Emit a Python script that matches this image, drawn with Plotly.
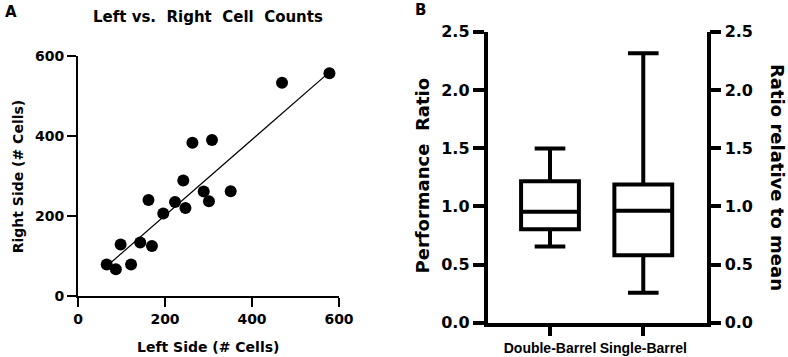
import plotly.graph_objects as go

# ---------- Data ----------
left_cells = [66, 87, 98, 122, 143, 170, 162, 196, 223, 242, 247, 263, 289, 301, 308, 351, 469, 578]
right_cells = [79, 67, 129, 79, 134, 125, 240, 206, 235, 289, 220, 383, 261, 237, 390, 262, 533, 557]
# regression line
fit_slope = 0.948
fit_intercept = 11.8

box_groups = ["Double-Barrel", "Single-Barrel"]
box_lower = [0.655, 0.258]
box_q1 = [0.802, 0.58]
box_median = [0.954, 0.962]
box_q3 = [1.216, 1.188]
box_upper = [1.497, 2.314]

a_ticks = [0, 200, 400, 600]
b_ticks = [0.0, 0.5, 1.0, 1.5, 2.0, 2.5]

W, H = 788, 357
def px(x):
    return x / W
def py(y):
    return 1 - y / H

BOLD = "DejaVu Sans"
fig = go.Figure()

# Panel A scatter
fig.add_trace(go.Scatter(x=left_cells, y=right_cells, mode="markers",
                         marker=dict(color="black", size=12),
                         xaxis="x", yaxis="y", hoverinfo="skip"))
lx = [min(left_cells), max(left_cells)]
ly = [fit_slope * v + fit_intercept for v in lx]
fig.add_trace(go.Scatter(x=lx, y=ly, mode="lines",
                         line=dict(color="black", width=1.2),
                         xaxis="x", yaxis="y", hoverinfo="skip"))

# Panel B boxes
fig.add_trace(go.Box(x=box_groups, q1=box_q1, median=box_median, q3=box_q3,
                     lowerfence=box_lower, upperfence=box_upper,
                     line=dict(color="black", width=4),
                     fillcolor="rgba(0,0,0,0)", width=0.62, whiskerwidth=0.53,
                     boxpoints=False, xaxis="x2", yaxis="y2", hoverinfo="skip"))
# invisible trace to activate right axis
fig.add_trace(go.Scatter(x=[box_groups[0]], y=[1.0], mode="markers",
                         marker=dict(opacity=0), xaxis="x2", yaxis="y3",
                         hoverinfo="skip"))

axA = dict(showline=True, linecolor="black", linewidth=2, ticks="outside",
           ticklen=9, tickwidth=2, tickcolor="black", showgrid=False,
           zeroline=False, range=[0, 600], tickvals=a_ticks, automargin=False,
           tickfont=dict(family=BOLD, size=14, color="black", weight="bold"))
axB = dict(showline=True, linecolor="black", linewidth=3.5, ticks="outside",
           ticklen=11, tickwidth=3.5, tickcolor="black", showgrid=False,
           zeroline=False, range=[0, 2.5], tickvals=b_ticks, tickformat=".1f",
           automargin=False,
           tickfont=dict(family=BOLD, size=16, color="black", weight="bold"))

fig.update_layout(
    width=W, height=H, margin=dict(l=0, r=0, t=0, b=0),
    paper_bgcolor="white", plot_bgcolor="white", showlegend=False,
    xaxis=dict(axA, domain=[px(78), px(339)], anchor="y"),
    yaxis=dict(axA, domain=[py(296), py(56)], anchor="x"),
    xaxis2=dict(showline=True, linecolor="black", linewidth=3.5, ticks="outside",
                ticklen=10, tickwidth=3.5, tickcolor="black", showgrid=False,
                zeroline=False, type="category", range=[-0.67, 1.68],
                domain=[px(487.5), px(706.7)], anchor="y2", automargin=False,
                tickangle=0,
                tickfont=dict(family="Liberation Sans", size=14, color="black", weight="bold")),
    yaxis2=dict(axB, domain=[py(322.7), py(31.7)], anchor="x2"),
    yaxis3=dict(axB, overlaying="y2", side="right", anchor="x2"),
)

def ann(text, x, y, size, angle=0, xanchor="center"):
    fig.add_annotation(text=text, x=px(x), y=py(y), xref="paper", yref="paper",
                       showarrow=False, textangle=angle, xanchor=xanchor, yanchor="middle",
                       font=dict(family=BOLD, size=size, color="black", weight="bold"))

nb = "\u00a0"
ann("A", 3, 12.5, 15, xanchor="left")
ann("B", 413, 9.5, 15, xanchor="left")
ann("Left vs." + nb * 2 + "Right" + nb * 2 + "Cell" + nb * 2 + "Counts", 208.5, 17, 15)
ann("Left Side (# Cells)", 208, 347, 14)
ann("Right Side (# Cells)", 18.3, 176, 14, angle=-90)
ann("Performance" + nb * 2 + "Ratio", 421.5, 176, 18, angle=-90)
ann("Ratio relative to mean", 778, 177, 18, angle=90)

fig.write_html("out.html", config={"displayModeBar": False},
               post_script="document.body.style.margin='0';document.body.style.overflow='hidden';")
